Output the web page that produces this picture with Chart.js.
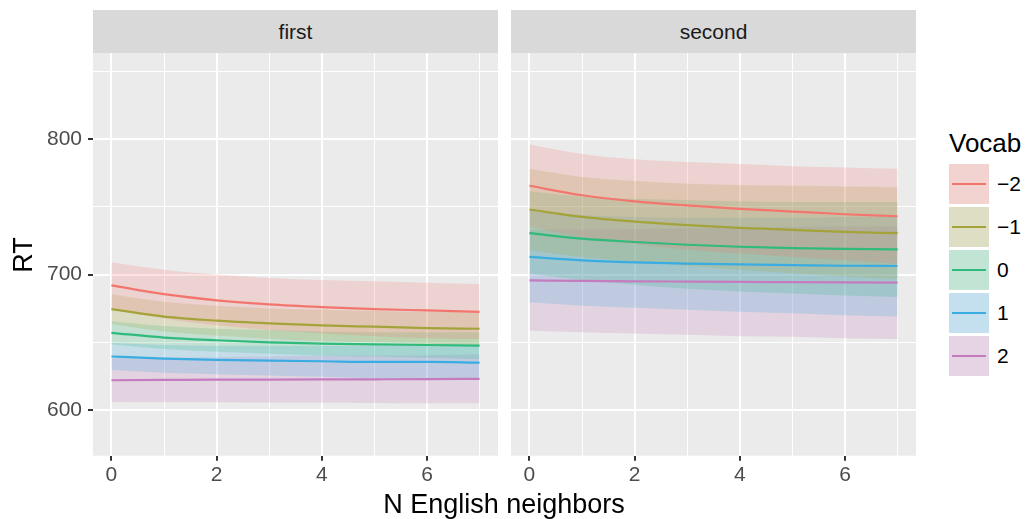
<!DOCTYPE html>
<html>
<head>
<meta charset="utf-8">
<script src="https://cdn.jsdelivr.net/npm/chart.js@4"></script>
<style>
  body { margin: 0; background: #fff; font-family: "Liberation Sans", Arial, sans-serif; }
  #wrap { position: relative; width: 1026px; height: 519px; overflow: hidden; }
  canvas { position: absolute; }
  .strip { position: absolute; top: 10px; height: 43px; background: #D9D9D9; color: #1A1A1A;
           font-size: 21px; line-height: 43px; text-align: center; }
  .lbl { position: absolute; white-space: nowrap; }
  .key { position: absolute; left: 949px; width: 40px; height: 40px; }
  .key span { position: absolute; left: 3px; right: 3px; top: 19px; height: 2px; }
</style>
</head>
<body>
<div id="wrap">
  <div class="strip" style="left:93px;width:405px">first</div>
  <div class="strip" style="left:511px;width:405px">second</div>
  <canvas id="c1" width="498" height="440" style="left:0;top:53px"></canvas>
  <canvas id="c2" width="405" height="440" style="left:511px;top:53px"></canvas>
  <div class="lbl" style="left:0;top:240px;width:46px;font-size:27px;line-height:30px;text-align:center;transform:rotate(-90deg);">RT</div>
  <div class="lbl" style="left:304px;width:400px;top:489px;font-size:27px;line-height:30px;text-align:center;">N English neighbors</div>
  <div id="legend"></div>
</div>
<script>
const xValues = [0, 1, 2, 3, 4, 5, 6, 7]
const vocabLevels = ['\u22122', '\u22121', '0', '1', '2']
const vocabColors = ['#F2766D', '#A3A33A', '#30BA7C', '#3AACE2', '#C47BBF']

const firstFit = [
  [692, 685.5, 681, 678, 676, 674.5, 673.5, 672.5],
  [674.5, 669, 666, 664, 662.5, 661.5, 660.5, 660],
  [657, 653.5, 651.5, 650, 649, 648.5, 648, 647.5],
  [639.5, 638, 637, 636.5, 636, 635.5, 635.5, 635],
  [622, 622.2, 622.4, 622.5, 622.6, 622.7, 622.8, 623]
]
const firstLower = [
  [675, 667.5, 662.5, 659, 656.5, 654.5, 653, 652.5],
  [663.5, 658, 655, 652.5, 651, 650, 649, 648],
  [648.5, 645, 643, 641.5, 640, 639.5, 638.5, 637.5],
  [629.5, 627.5, 626.5, 625.5, 624.5, 623.5, 623, 622],
  [606, 605.8, 605.7, 605.5, 605.3, 605.2, 605, 605]
]
const firstUpper = [
  [709, 703.5, 700, 697.5, 696, 695, 694, 693],
  [685.5, 680, 677, 675, 674, 673, 672.5, 672],
  [665.5, 662, 660, 659, 658, 657.5, 657.5, 657.5],
  [649.5, 648, 647.5, 647.5, 647.5, 647.5, 647.5, 648],
  [638, 638.5, 639, 639.5, 640, 640.2, 640.5, 641]
]

const secondFit = [
  [765.5, 758.5, 754, 751, 748.5, 746.5, 744.5, 743],
  [748, 742.5, 739, 736.5, 734.5, 733, 731.5, 730.5],
  [730.5, 726.5, 724, 722, 720.5, 719.5, 719, 718.5],
  [713, 710.5, 709, 708, 707.5, 707, 706.5, 706.3],
  [695.7, 695.3, 695, 694.8, 694.6, 694.4, 694.2, 694]
]
const secondLower = [
  [735, 727.5, 722.5, 718.5, 715.5, 713, 710.5, 708],
  [718, 713, 709.5, 706.5, 703.5, 701, 698.5, 696.5],
  [700.5, 696, 692.5, 689.5, 687.5, 686, 684.5, 683.5],
  [679.5, 677, 675.5, 674, 672.5, 671.5, 670, 669],
  [658.5, 657.5, 656.5, 655.5, 654.5, 654, 653, 652.5]
]
const secondUpper = [
  [796, 789, 785, 783, 781.5, 780, 779, 778],
  [778, 772, 769, 767, 766, 765.5, 765, 764.5],
  [761.5, 757.5, 756, 755, 754, 753.5, 753.5, 753.5],
  [747, 744, 742.5, 742, 742, 742, 742.5, 743],
  [733, 733, 733.5, 734, 734.5, 735, 735.5, 735.5]
]

const xTicks = [0, 1, 2, 3, 4, 5, 6, 7]
const yTicks = [600, 650, 700, 750, 800, 850]

function withAlpha(hex, a) {
  const n = parseInt(hex.slice(1), 16)
  return `rgba(${n >> 16}, ${(n >> 8) & 255}, ${n & 255}, ${a})`
}

function toPoints(values) {
  return values.map((v, i) => ({ x: xValues[i], y: v }))
}

function buildDatasets(fit, lower, upper) {
  const sets = []
  vocabLevels.forEach((lvl, i) => {
    sets.push({ data: toPoints(lower[i]), borderWidth: 0, pointRadius: 0, fill: false })
    sets.push({ data: toPoints(upper[i]), borderWidth: 0, pointRadius: 0, fill: '-1',
                backgroundColor: withAlpha(vocabColors[i], 0.21) })
  })
  vocabLevels.forEach((lvl, i) => {
    sets.push({ label: lvl, data: toPoints(fit[i]), borderColor: vocabColors[i], borderWidth: 2.2,
                pointRadius: 0, fill: false })
  })
  return sets
}

const panelBg = {
  id: 'panelBg',
  beforeDraw(chart) {
    const { ctx, chartArea: a } = chart
    ctx.save()
    ctx.fillStyle = '#EBEBEB'
    ctx.fillRect(a.left, a.top, a.right - a.left, a.bottom - a.top)
    ctx.restore()
  }
}

const tickFont = { family: '"Liberation Sans", Arial, sans-serif', size: 21 }

function makeChart(id, fit, lower, upper, showY) {
  return new Chart(document.getElementById(id), {
    type: 'line',
    data: { datasets: buildDatasets(fit, lower, upper) },
    plugins: [panelBg],
    options: {
      responsive: false,
      animation: false,
      layout: { padding: 0 },
      elements: { line: { cubicInterpolationMode: 'monotone' } },
      plugins: { legend: { display: false }, tooltip: { enabled: false },
                 filler: { drawTime: 'beforeDatasetsDraw' } },
      scales: {
        x: {
          type: 'linear', min: -0.35, max: 7.35,
          afterBuildTicks: s => { s.ticks = xTicks.map(v => ({ value: v })) },
          afterFit: s => { s.height = 37.3; s.paddingLeft = 0; s.paddingRight = 0 },
          border: { display: false },
          grid: {
            color: '#FFFFFF',
            lineWidth: c => (c.tick && c.tick.value % 2 === 0 ? 2 : 1),
            tickColor: c => (c.tick && c.tick.value % 2 === 0 ? '#333333' : 'rgba(0,0,0,0)'),
            tickWidth: 2, tickLength: 5
          },
          ticks: { autoSkip: false, maxRotation: 0, padding: 2, color: '#4D4D4D', font: tickFont,
                   callback: v => (v % 2 === 0 ? String(v) : '') }
        },
        y: {
          type: 'linear', min: 566.3, max: 863.5,
          afterBuildTicks: s => { s.ticks = yTicks.map(v => ({ value: v })) },
          afterFit: s => { s.width = showY ? 93 : 0; s.paddingTop = 0; s.paddingBottom = 0 },
          border: { display: false },
          grid: {
            color: '#FFFFFF',
            lineWidth: c => (c.tick && c.tick.value % 100 === 0 ? 2 : 1),
            drawTicks: showY,
            tickColor: c => (c.tick && c.tick.value % 100 === 0 ? '#333333' : 'rgba(0,0,0,0)'),
            tickWidth: 2, tickLength: 5
          },
          ticks: { display: showY, autoSkip: false, padding: 6, color: '#4D4D4D', font: tickFont,
                   callback: v => (v % 100 === 0 ? String(v) : '') }
        }
      }
    }
  })
}

makeChart('c1', firstFit, firstLower, firstUpper, true)
makeChart('c2', secondFit, secondLower, secondUpper, false)

// legend
const legend = document.getElementById('legend')
let html = '<div class="lbl" style="left:949px;top:130px;font-size:26px;line-height:26px;color:#000">Vocab</div>'
vocabLevels.forEach((lvl, i) => {
  const top = 163.5 + i * 43.2
  html += `<div class="key" style="top:${top}px;background:#F2F2F2">` +
    `<div style="position:absolute;inset:0;background:${withAlpha(vocabColors[i], 0.25)}"></div>` +
    `<span style="background:${vocabColors[i]}"></span></div>` +
    `<div class="lbl" style="left:997px;top:${top + 7}px;font-size:21px;line-height:26px;color:#000">${lvl}</div>`
})
legend.innerHTML = html
</script>
</body>
</html>
